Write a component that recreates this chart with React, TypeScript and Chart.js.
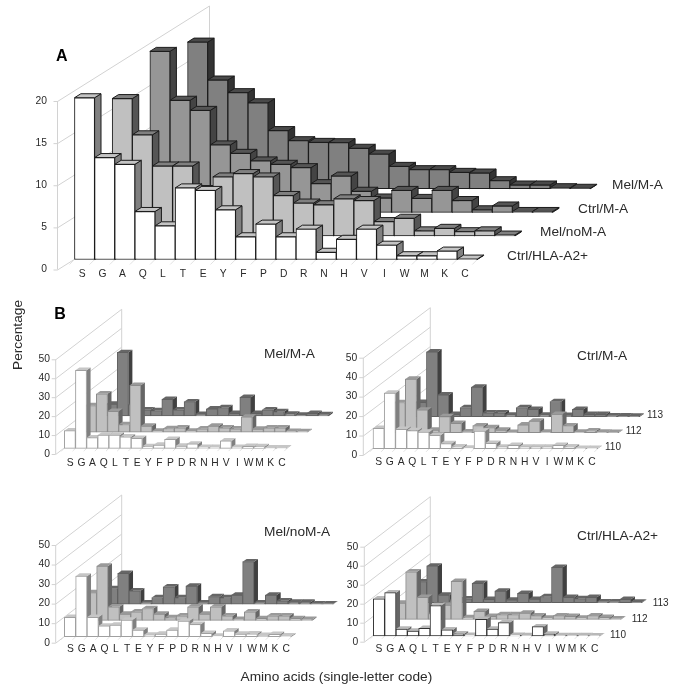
import React, { useEffect, useRef } from "react";
import { Chart, registerables } from "chart.js";

Chart.register(...registerables);

const aminoAcids = ["S","G","A","Q","L","T","E","Y","F","P","D","R","N","H","V","I","W","M","K","C"];

const overallHla = [19.2,12.1,11.3,5.7,4.0,8.5,8.2,5.9,2.7,4.2,2.7,3.6,0.86,2.4,3.6,1.7,0.45,0.45,1.0,0.05];
const overallMelNoM = [16.3,12,8.3,8.3,5.5,7,7.4,7,4.8,3.9,3.7,4.4,4.2,1.7,2.1,0.6,0.9,0.5,0.6,0.1];
const overallCtrlM = [19.1,13.3,12.1,8.0,7,6.1,5.7,5.3,3.4,4.3,2.5,1.7,2.6,1.65,2.6,1.4,0.3,0.75,0.1,0.1];
const overallMelM = [17.4,12.9,11.4,10.2,6.9,5.7,5.5,5.46,4.8,4.1,2.65,2.26,2.26,1.94,1.86,0.95,0.44,0.44,0.12,0.05];

const melM110 = [9.3,41.2,5.6,7,7,6.1,5.3,0.9,1.75,4.7,1.2,2.3,0.5,0.5,3.9,0.5,1,0.9,0.2,0.2];
const melM112 = [14,20.2,11,4,24.7,3.2,0.5,1.9,2.3,0.5,1.75,3.2,2.3,1.75,8,1.6,2.3,2.3,0.4,0.3];
const melM113 = [6.3,33.5,6,3.2,2.8,8.8,3.2,7.5,0.9,3.7,4.4,1.4,9.8,1.4,3.2,2.3,1,0.5,1.4,0.7];

const ctrlM110 = [10.5,28.6,10,9.3,8.6,6.9,2.6,1,0.3,9.1,2.8,0.9,1.7,0.9,0.9,0.9,1.7,1,0.2,0.2];
const ctrlM112 = [15.5,27.6,11.7,1.4,8.3,4.8,0.5,3.6,2.6,1.4,0.2,4,6,0.3,9.5,3.6,0.3,1,0.3,0.2];
const ctrlM113 = [7.4,33.3,11.2,1.2,4.7,15.2,2,2,0.9,4.7,3.8,0.9,7.8,0.7,3.8,1.2,1.2,0.5,0.4,0.3];

const melNoM110 = [9.9,31,9.9,5.5,6,8.5,3.4,0.85,1.4,3.4,8,6.3,1.7,0.35,3,1.4,1.5,0.7,1.2,0.5];
const melNoM112 = [14.2,27.8,7,3.2,4.4,6.1,3.2,1.5,2.4,7,3.2,7,2.4,0.5,4.4,1,2.4,2.4,1,0.5];
const melNoM113 = [8,15.7,6.8,0.7,3.4,8.9,3.4,9.2,0.7,3.8,3.4,4.6,21.7,0.7,4.6,1.7,1,1,0.2,0.2];

const hla110 = [19.6,22.8,3.7,2.6,4,16,3.2,1.2,0.35,8.8,3.7,7,0.35,0.2,4.9,1,0.2,0.2,0.2,0.1];
const hla112 = [8.5,25,11.6,3,7.5,20,0.9,4.2,1.6,2.5,2.5,3.3,1.9,0.7,1.9,1.6,0.7,1.9,1,0.3];
const hla113 = [11,19.3,4,1.5,2,10.2,1.7,6.1,1.4,4.9,1.8,3.2,18.6,2.8,2.1,2.8,0.4,0.4,1.7,0.3];

const FONT = '"Liberation Sans", Arial, sans-serif';
const INK = "#2a2a2a";

type Look = { fill: string; top: string; side: string; line: string };
const lookWhiteA: Look = { fill: "#ffffff", top: "#c4c4c4", side: "#808080", line: "#1c1c1c" };
const lookLightA: Look = { fill: "#c0c0c0", top: "#808080", side: "#555555", line: "#1c1c1c" };
const lookMidA: Look = { fill: "#969696", top: "#555555", side: "#444444", line: "#1c1c1c" };
const lookDarkA: Look = { fill: "#808080", top: "#4a4a4a", side: "#333333", line: "#1c1c1c" };
const lookWhiteB: Look = { fill: "#ffffff", top: "#c6c6c6", side: "#808080", line: "#a0a0a0" };
const lookWhiteB4: Look = { fill: "#ffffff", top: "#b8b8b8", side: "#666666", line: "#333333" };
const lookLightB: Look = { fill: "#c0c0c0", top: "#9a9a9a", side: "#666666", line: "#8c8c8c" };
const lookDarkB: Look = { fill: "#808080", top: "#666666", side: "#404040", line: "#606060" };

type Note = { text: string; x: number; y: number; size: number; bold?: boolean; rot?: boolean; align?: CanvasTextAlign };
type Panel = {
  axisX: number; y0: number; yTop: number; maxV: number; stepV: number;
  wallDx: number; wallDy: number; left: number; barW: number;
  frontDx: number; frontDy: number; stepX: number; stepY: number;
  depthX: number; depthY: number; labelGap: number; tickRight: number;
  tickSize: number; outlineFaces: boolean;
  series: { label: string; data: number[]; look: Look }[];
  notes: Note[];
};

const panels: Panel[] = [
  {
    axisX: 57.5, y0: 269.5, yTop: 101, maxV: 20, stepV: 5, wallDx: 152, wallDy: 95,
    left: 72.2, barW: 20.14, frontDx: 2.27, frontDy: 10, stepX: 37.7, stepY: 23.6,
    depthX: 6.4, depthY: 4, labelGap: -1.7, tickRight: 47, tickSize: 10.3, outlineFaces: true,
    series: [
      { label: "Ctrl/HLA-A2+", data: overallHla, look: lookWhiteA },
      { label: "Mel/noM-A", data: overallMelNoM, look: lookLightA },
      { label: "Ctrl/M-A", data: overallCtrlM, look: lookMidA },
      { label: "Mel/M-A", data: overallMelM, look: lookDarkA },
    ],
    notes: [
      { text: "Mel/M-A", x: 612, y: 185, size: 13.7 },
      { text: "Ctrl/M-A", x: 578, y: 209, size: 13.7 },
      { text: "Mel/noM-A", x: 540, y: 232.7, size: 13.7 },
      { text: "Ctrl/HLA-A2+", x: 507, y: 256.7, size: 13.7 },
      { text: "A", x: 56, y: 57, size: 16, bold: true },
      { text: "B", x: 54.3, y: 315, size: 16, bold: true },
      { text: "Percentage", x: 18, y: 335, size: 13.7, rot: true },
      { text: "Amino acids (single-letter code)", x: 240.5, y: 677, size: 13.7 },
    ],
  },
  {
    axisX: 55.7, y0: 454, yTop: 359.3, maxV: 50, stepV: 10, wallDx: 66, wallDy: 50,
    left: 64.7, barW: 11.14, frontDx: -0.4, frontDy: 5.7, stepX: 20.9, stepY: 16.2,
    depthX: 4, depthY: 2.8, labelGap: 2.7, tickRight: 50, tickSize: 10.3, outlineFaces: false,
    series: [
      { label: "110", data: melM110, look: lookWhiteB },
      { label: "112", data: melM112, look: lookLightB },
      { label: "113", data: melM113, look: lookDarkB },
    ],
    notes: [{ text: "Mel/M-A", x: 264, y: 354, size: 13.7 }],
  },
  {
    axisX: 363.3, y0: 455, yTop: 357.7, maxV: 50, stepV: 10, wallDx: 67, wallDy: 50,
    left: 373, barW: 11.23, frontDx: 0, frontDy: 6.3, stepX: 21.1, stepY: 16,
    depthX: 4, depthY: 2.8, labelGap: 0.7, tickRight: 357.3, tickSize: 10.3, outlineFaces: false,
    series: [
      { label: "110", data: ctrlM110, look: lookWhiteB },
      { label: "112", data: ctrlM112, look: lookLightB },
      { label: "113", data: ctrlM113, look: lookDarkB },
    ],
    notes: [
      { text: "Ctrl/M-A", x: 577, y: 356.7, size: 13.7 },
      { text: "113", x: 647, y: 415, size: 10 },
      { text: "112", x: 625.7, y: 431.7, size: 10 },
      { text: "110", x: 605, y: 447.7, size: 10 },
    ],
  },
  {
    axisX: 55.7, y0: 642.7, yTop: 545, maxV: 50, stepV: 10, wallDx: 66, wallDy: 50,
    left: 64.7, barW: 11.36, frontDx: -0.4, frontDy: 6, stepX: 21, stepY: 16.3,
    depthX: 4, depthY: 2.8, labelGap: 0.7, tickRight: 50, tickSize: 10.3, outlineFaces: false,
    series: [
      { label: "110", data: melNoM110, look: lookWhiteB },
      { label: "112", data: melNoM112, look: lookLightB },
      { label: "113", data: melNoM113, look: lookDarkB },
    ],
    notes: [{ text: "Mel/noM-A", x: 264, y: 532, size: 13.7 }],
  },
  {
    axisX: 364.3, y0: 641.7, yTop: 546.7, maxV: 50, stepV: 10, wallDx: 66, wallDy: 50,
    left: 373.3, barW: 11.35, frontDx: 0, frontDy: 5.7, stepX: 21, stepY: 16.7,
    depthX: 4, depthY: 2.8, labelGap: 1, tickRight: 358.3, tickSize: 10.3, outlineFaces: false,
    series: [
      { label: "110", data: hla110, look: lookWhiteB4 },
      { label: "112", data: hla112, look: lookLightB },
      { label: "113", data: hla113, look: lookDarkB },
    ],
    notes: [
      { text: "Ctrl/HLA-A2+", x: 577, y: 536.7, size: 13.7 },
      { text: "113", x: 652.7, y: 603, size: 10 },
      { text: "112", x: 631.7, y: 619, size: 10 },
      { text: "110", x: 610, y: 635.7, size: 10 },
    ],
  },
];

function poly(ctx: CanvasRenderingContext2D, pts: number[][], fill: string, stroke?: string) {
  ctx.beginPath();
  pts.forEach((p, i) => (i ? ctx.lineTo(p[0], p[1]) : ctx.moveTo(p[0], p[1])));
  ctx.closePath();
  ctx.fillStyle = fill;
  ctx.fill();
  if (stroke) {
    ctx.strokeStyle = stroke;
    ctx.lineWidth = 1;
    ctx.stroke();
  }
}

function depthPlugin(p: Panel) {
  return {
    id: "depthBars",
    beforeDatasetsDraw(chart: any) {
      const ctx: CanvasRenderingContext2D = chart.ctx;
      const y = chart.scales.y;
      const x = chart.scales.x;
      ctx.save();
      ctx.strokeStyle = "#d2d2d2";
      ctx.lineWidth = 1;
      for (let v = 0; v <= p.maxV; v += p.stepV) {
        const py = y.getPixelForValue(v);
        ctx.beginPath();
        ctx.moveTo(p.axisX - 4, py + 0.5);
        ctx.lineTo(p.axisX, py + 0.5);
        ctx.lineTo(p.axisX + p.wallDx, py - p.wallDy);
        ctx.stroke();
      }
      ctx.beginPath();
      ctx.moveTo(p.axisX, y.getPixelForValue(0));
      ctx.lineTo(p.axisX, y.getPixelForValue(p.maxV));
      ctx.moveTo(p.axisX + p.wallDx, y.getPixelForValue(0) - p.wallDy);
      ctx.lineTo(p.axisX + p.wallDx, y.getPixelForValue(p.maxV) - p.wallDy);
      ctx.stroke();
      const base = y.getPixelForValue(0) - p.frontDy;
      ctx.strokeStyle = "#e2e2e2";
      for (let i = 0; i <= aminoAcids.length; i++) {
        const edge = x.getPixelForTick(0) - p.barW / 2 + p.frontDx + i * p.barW;
        ctx.beginPath();
        ctx.moveTo(edge, base);
        ctx.lineTo(edge - p.frontDy * 0.5, base + p.frontDy * 0.5);
        ctx.stroke();
      }
      ctx.restore();
    },
    beforeDatasetDraw(chart: any, args: any) {
      const ctx: CanvasRenderingContext2D = chart.ctx;
      const k = args.index;
      const look = p.series[k].look;
      ctx.save();
      ctx.translate(p.frontDx + k * p.stepX, -p.frontDy - k * p.stepY);
      const stroke = p.outlineFaces ? look.line : undefined;
      for (const el of args.meta.data) {
        const l = el.x - el.width / 2;
        const r = el.x + el.width / 2;
        const dx = p.depthX;
        const dy = p.depthY;
        poly(ctx, [[r, el.y], [r + dx, el.y - dy], [r + dx, el.base - dy], [r, el.base]], look.side, stroke);
        poly(ctx, [[l, el.y], [l + dx, el.y - dy], [r + dx, el.y - dy], [r, el.y]], look.top, stroke);
      }
    },
    afterDatasetDraw(chart: any) {
      chart.ctx.restore();
    },
    afterDraw(chart: any) {
      const ctx: CanvasRenderingContext2D = chart.ctx;
      for (const n of p.notes) {
        ctx.save();
        ctx.fillStyle = n.bold ? "#000000" : INK;
        ctx.font = `${n.bold ? "bold " : ""}${n.size}px ${FONT}`;
        ctx.textBaseline = "middle";
        ctx.textAlign = n.align ?? (n.rot ? "center" : "left");
        ctx.translate(n.x, n.y);
        if (n.rot) ctx.rotate(-Math.PI / 2);
        ctx.fillText(n.text, 0, 0);
        ctx.restore();
      }
    },
  };
}

function PanelChart({ panel }: { panel: Panel }) {
  const ref = useRef<HTMLCanvasElement>(null);
  useEffect(() => {
    const W = 685;
    const H = 694;
    const yBand = panel.left - panel.tickRight + 24;
    const xBand = 24;
    const chart = new Chart(ref.current as HTMLCanvasElement, {
      type: "bar",
      data: {
        labels: aminoAcids,
        datasets: panel.series.map((s) => ({
          label: s.label,
          data: s.data,
          backgroundColor: s.look.fill,
          borderColor: s.look.line,
          borderWidth: 1,
          borderSkipped: false,
          barPercentage: 1,
          categoryPercentage: 1,
          grouped: false,
          clip: false,
        })),
      } as any,
      options: {
        responsive: false,
        animation: false,
        layout: {
          padding: {
            left: panel.left - yBand,
            right: W - panel.left - panel.barW * aminoAcids.length,
            top: panel.yTop,
            bottom: H - panel.y0 - xBand,
          },
        },
        plugins: { legend: { display: false }, tooltip: { enabled: false }, title: { display: false } },
        scales: {
          x: {
            afterFit: (s: any) => {
              s.height = xBand;
              s._computeLabelArea = () => undefined;
            },
            grid: { display: false, drawTicks: false },
            border: { display: false },
            ticks: {
              autoSkip: false, maxRotation: 0, padding: panel.labelGap,
              color: INK, font: { family: FONT, size: panel.tickSize },
            },
          },
          y: {
            min: 0,
            max: panel.maxV,
            afterFit: (s: any) => { s.width = yBand; },
            grid: { display: false, drawTicks: false },
            border: { display: false },
            ticks: {
              stepSize: panel.stepV, padding: panel.left - panel.tickRight,
              color: INK, font: { family: FONT, size: panel.tickSize },
            },
          },
        },
      } as any,
      plugins: [depthPlugin(panel)] as any,
    });
    return () => chart.destroy();
  }, [panel]);
  return (
    <canvas
      ref={ref}
      width={685}
      height={694}
      style={{ position: "absolute", left: 0, top: 0, width: 685, height: 694, pointerEvents: "none" }}
    />
  );
}

export default function App() {
  return (
    <div style={{ position: "fixed", left: 0, top: 0, width: 685, height: 694, background: "#ffffff", overflow: "hidden" }}>
      {panels.map((p, i) => (
        <PanelChart key={i} panel={p} />
      ))}
    </div>
  );
}
